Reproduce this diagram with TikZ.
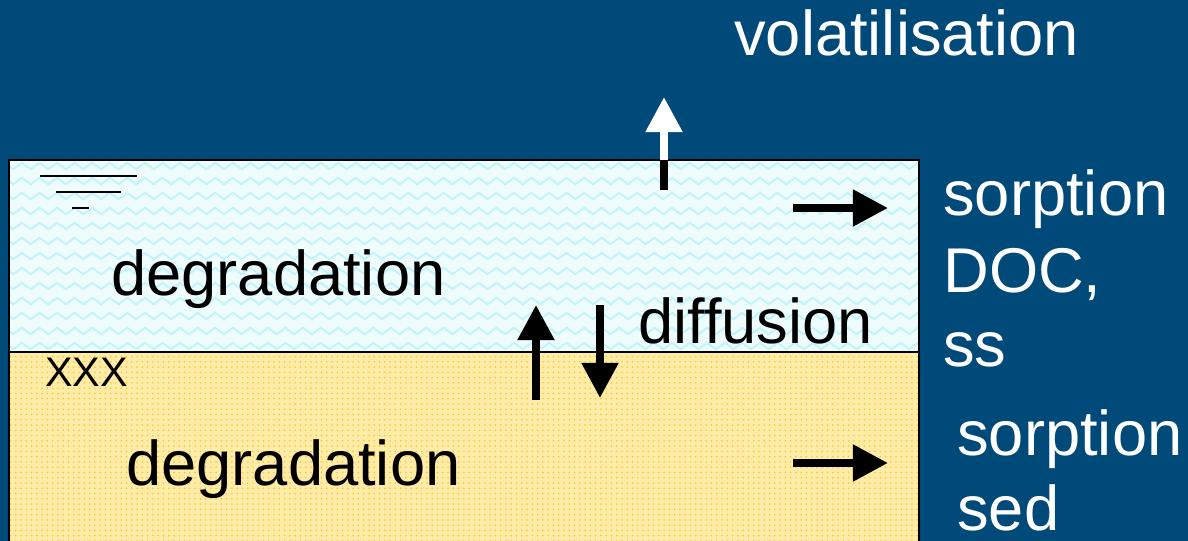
\documentclass[tikz,border=0pt]{standalone}
\usepackage{fontspec}
\setmainfont{Liberation Sans}
\usepackage{tikz}
\usetikzlibrary{arrows.meta,patterns,decorations.pathmorphing}
\definecolor{slide}{RGB}{0,74,122}
\definecolor{waterbg}{RGB}{238,252,252}
\definecolor{wave}{RGB}{192,243,250}
\definecolor{sandbg}{RGB}{255,236,168}
\definecolor{sanddot}{RGB}{255,196,30}

\begin{document}
\begin{tikzpicture}[x=0.02cm, y=-0.02cm,
  big/.style={font=\fontsize{36}{43}\selectfont, anchor=base west, inner sep=0pt},
  flux/.style={line width=4.5pt, -{Triangle[length=20pt,width=20pt]}}]
  % slide background, fixes the page size
  \useasboundingbox[fill=slide] (0,0) rectangle (1188,541);
  % water and sediment layers
  \fill[waterbg] (9,160) rectangle (919,352);
  \begin{scope}
    \clip (9,160) rectangle (919,352);
    \foreach \y in {166,181,...,351}{
      \draw[wave, line width=1.1pt, decorate,
        decoration={zigzag, segment length=10pt, amplitude=1.8pt}] (0,\y) -- (930,\y);
    }
  \end{scope}
  \fill[sandbg] (9,352) rectangle (919,545);
  \fill[pattern=dots, pattern color=sanddot] (9,352) rectangle (919,545);
  \draw[line width=1.1pt] (9,545) -- (9,160) -- (919,160) -- (919,545);
  \draw[line width=1.1pt] (9,352) -- (919,352);
  % water level symbol
  \draw[line width=0.8pt] (40,176) -- (137,176);
  \draw[line width=0.8pt] (56,192) -- (121,192);
  \draw[line width=0.8pt] (72,208) -- (89,208);
  % labels
  \node[big, white] (vol) at (734,55) {volatilisation};
  \node[big, white] (sorpw) at (943,215) {sorption};
  \node[big, white] (doc) at (943,292) {DOC,};
  \node[big, white] (ss) at (943,366) {ss};
  \node[big, white] (sorps) at (957,455) {sorption};
  \node[big, white] (sed) at (957,530) {sed};
  \node[big] (degw) at (111,295) {degradation};
  \node[big] (degs) at (126,485) {degradation};
  \node[big] (diff) at (638,343) {diffusion};
  \node[anchor=base west, inner sep=0pt, font=\fontsize{23.5}{28}\selectfont] (xxx) at (45,386) {XXX};
  % fluxes
  \coordinate (volfoot) at (664,190);
  \coordinate (volsurf) at (664,160);
  \coordinate (voltip) at (664,97);
  \draw[line width=4.5pt] (volfoot) -- (volsurf);
  \draw[flux, white] (volsurf) -- (voltip);
  \coordinate (upfoot) at (536,400);
  \coordinate (uptip) at (536,305);
  \coordinate (downfoot) at (600,305);
  \coordinate (downtip) at (600,398);
  \draw[flux] (upfoot) -- (uptip);
  \draw[flux] (downfoot) -- (downtip);
  \coordinate (sorpwfoot) at (793,208);
  \coordinate (sorpwtip) at (888,208);
  \coordinate (sorpsfoot) at (793,463);
  \coordinate (sorpstip) at (888,463);
  \draw[flux] (sorpwfoot) -- (sorpwtip);
  \draw[flux] (sorpsfoot) -- (sorpstip);
\end{tikzpicture}
\end{document}
